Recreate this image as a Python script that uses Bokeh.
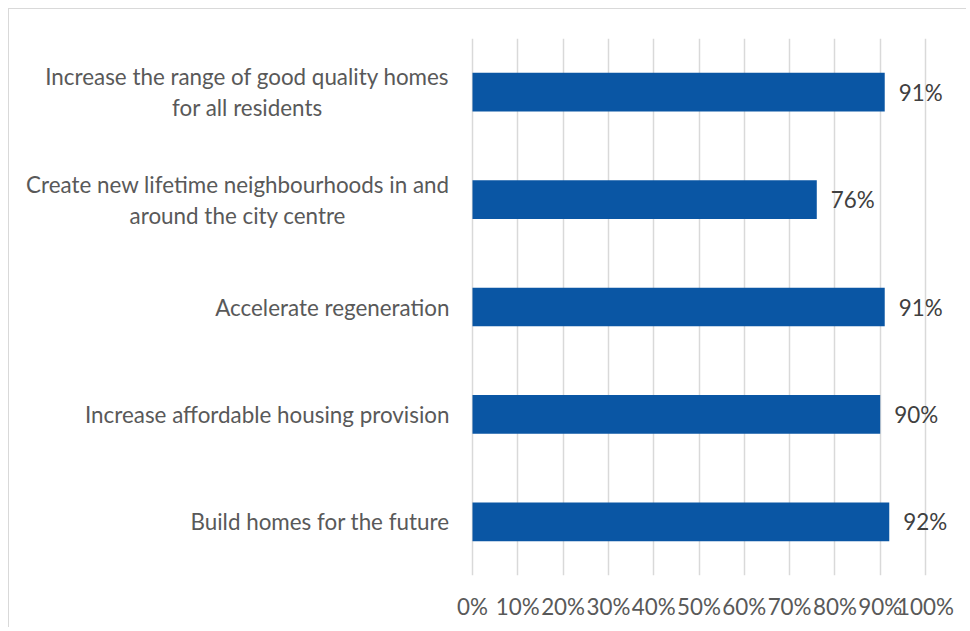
from bokeh.plotting import figure
from bokeh.models import FactorRange, Range1d, FixedTicker
from bokeh.core.properties import value
from bokeh.embed import file_html
from bokeh.resources import INLINE

categories = [
    "Increase the range of good quality homes\nfor all residents",
    "Create new lifetime neighbourhoods in and\naround the city centre",
    "Accelerate regeneration",
    "Increase affordable housing provision",
    "Build homes for the future",
]
values = [91, 76, 91, 90, 92]
value_labels = ["91%", "76%", "91%", "90%", "92%"]
tick_values = [0, 10, 20, 30, 40, 50, 60, 70, 80, 90, 100]
tick_labels = ["0%", "10%", "20%", "30%", "40%", "50%", "60%", "70%", "80%", "90%", "100%"]

FONT = "Lato"
FS = "22.4px"
W, H = 958, 619
left_b, right_b, top_b, bottom_b = 5, 5, 29, 53
frame_w = W - left_b - right_b
zero_px = 472 - 9 - left_b
scale = 453 / 100.0
x_start = -zero_px / scale
x_end = x_start + frame_w / scale

p = figure(
    width=W, height=H,
    y_range=FactorRange(factors=list(reversed(categories))),
    x_range=Range1d(x_start, x_end),
    output_backend="svg", toolbar_location=None,
    min_border_left=left_b, min_border_right=right_b,
    min_border_top=top_b, min_border_bottom=bottom_b,
)
p.margin = (8, 0, 0, 8)
p.styles = {"border-left": "1px solid #d9d9d9", "border-top": "1px solid #d9d9d9"}
p.outline_line_color = None
p.background_fill_color = "white"
p.border_fill_color = "white"

p.hbar(y=categories, right=values, left=0, height=0.36, color="#0A56A4", line_color=None)

p.text(x=values, y=categories, text=value_labels, x_offset=14,
       text_font=value(FONT), text_font_size=FS, text_color="#404040",
       text_align="left", text_baseline="middle")

p.text(x=[0] * len(categories), y=categories, text=categories, x_offset=-23,
       anchor="center_right", text_align="center", text_baseline="middle",
       text_font=value(FONT), text_font_size=FS, text_color="#595959",
       text_line_height=1.15)

p.yaxis.visible = False
p.ygrid.grid_line_color = None
p.xgrid.ticker = FixedTicker(ticks=tick_values)
p.xgrid.grid_line_color = "#d9d9d9"
p.xgrid.grid_line_width = 1.5
p.xaxis.ticker = FixedTicker(ticks=tick_values)
p.xaxis.major_label_overrides = {v: l for v, l in zip(tick_values, tick_labels)}
p.xaxis.axis_line_color = None
p.xaxis.major_tick_line_color = None
p.xaxis.minor_tick_line_color = None
p.xaxis.major_label_standoff = 11
p.xaxis.major_label_text_font = FONT
p.xaxis.major_label_text_font_size = FS
p.xaxis.major_label_text_color = "#595959"

open("out.html", "w").write(file_html(p, INLINE))
